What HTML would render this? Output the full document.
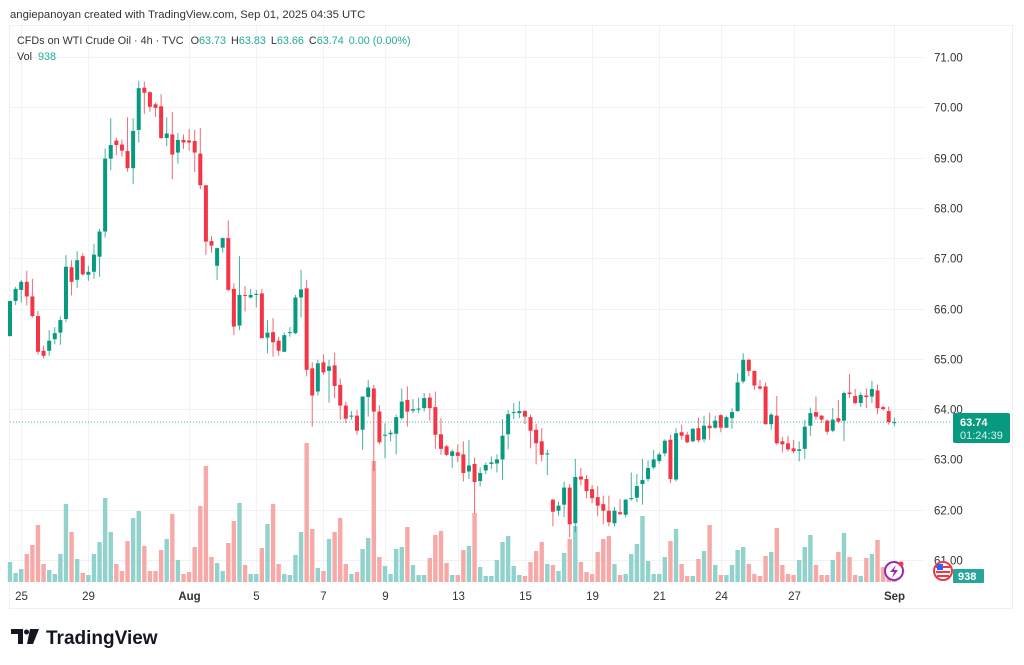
<!DOCTYPE html>
<html><head><meta charset="utf-8">
<style>
html,body{margin:0;padding:0;background:#fff;width:1024px;height:665px;overflow:hidden;font-family:"Liberation Sans",sans-serif;}
svg text{font-family:"Liberation Sans",sans-serif;}
</style></head>
<body>
<svg id="chart" width="1024" height="665" viewBox="0 0 1024 665" xmlns="http://www.w3.org/2000/svg">
  <text x="10" y="18" font-size="11.3" fill="#333">angiepanoyan created with TradingView.com, Sep 01, 2025 04:35 UTC</text>
  <rect x="9.5" y="25.5" width="1003" height="583" fill="none" stroke="#f0f0f0"/>
  <g id="grid"></g>
  <line id="pline" x1="10" x2="950" stroke="#089981" stroke-width="1" stroke-dasharray="1,2" opacity="0.7"/>
  <g id="vol"></g>
  <g id="candles"></g>
  <g id="yaxis"></g>
  <g id="xaxis"></g>
  <g font-size="10.8">
    <text x="17" y="44" fill="#333">CFDs on WTI Crude Oil · 4h · TVC <tspan dx="4">O</tspan><tspan fill="#22ab94">63.73</tspan><tspan dx="5">H</tspan><tspan fill="#22ab94">63.83</tspan><tspan dx="5">L</tspan><tspan fill="#22ab94">63.66</tspan><tspan dx="5">C</tspan><tspan fill="#22ab94">63.74</tspan><tspan dx="5" fill="#22ab94">0.00 (0.00%)</tspan></text>
    <text x="17" y="60" fill="#333">Vol <tspan dx="3" fill="#22ab94">938</tspan></text>
  </g>
  <g>
    <rect x="953" y="413" width="57" height="30" rx="2" fill="#089981"/>
    <text x="960" y="426" font-size="11" fill="#fff" font-weight="bold">63.74</text>
    <text x="960" y="439" font-size="11" fill="#d9f2ee">01:24:39</text>
  </g>
  <g>
    <rect x="953" y="569" width="31" height="14" rx="1" fill="#26a69a"/>
    <text x="958" y="580" font-size="11" fill="#fff" font-weight="bold">938</text>
  </g>
  <g>
    <circle cx="943" cy="571" r="9" fill="#fff" stroke="#f23645" stroke-width="2"/>
    <rect x="936" y="566" width="14" height="2" fill="#f23645"/><rect x="936" y="571" width="14" height="2" fill="#f23645"/><rect x="937" y="575" width="12" height="2" fill="#f23645"/>
    <rect x="937" y="564" width="6" height="6" fill="#2962ff"/>
  </g>
  <g>
    <circle cx="894" cy="571" r="9" fill="#fff" stroke="#9c27b0" stroke-width="2"/>
    <path d="M896 565 L890 572 L894 572 L892 578 L898 570 L894 570 Z" fill="#9c27b0"/>
    <circle cx="901" cy="564" r="2.5" fill="#f23645"/>
  </g>
  <g>
    <path d="M11 629 h12 v15 h-5 v-10 h-7 Z" fill="#131722"/>
    <circle cx="26.5" cy="632" r="2.5" fill="#131722"/>
    <path d="M30 629 h9 l-6 15 h-6 Z" fill="#131722"/>
    <text x="46" y="644" font-size="19" font-weight="bold" fill="#131722">TradingView</text>
  </g>
</svg>
<script>
const opens=[65.45,66.15,66.37,66.53,66.24,65.85,65.16,65.16,65.39,65.52,65.79,66.82,66.57,67.04,66.67,66.73,67.03,67.53,68.98,69.34,69.26,69.13,68.79,69.55,70.39,70.30,70.06,70.02,69.39,69.46,69.10,69.35,69.34,69.33,69.08,68.45,67.34,66.85,67.21,67.40,66.39,65.66,66.27,66.22,66.27,66.30,65.42,65.53,65.36,65.14,65.51,65.51,66.22,66.40,64.81,64.35,64.93,64.76,64.87,64.48,64.07,63.85,63.87,63.59,64.24,64.41,63.95,63.47,63.50,63.51,63.82,64.18,63.97,64.00,64.02,64.23,64.04,63.50,63.26,63.07,63.14,63.10,62.76,62.91,62.57,62.78,62.91,62.92,63.00,63.50,63.92,63.92,63.96,63.84,63.59,63.36,63.10,62.20,61.98,62.10,62.44,61.73,62.66,62.61,62.41,62.25,62.11,61.98,61.73,61.95,61.90,62.21,62.24,62.51,62.61,62.84,62.97,63.12,63.39,62.60,63.54,63.49,63.36,63.62,63.40,63.67,63.63,63.88,63.63,63.82,63.96,64.55,64.98,64.76,64.45,64.45,63.70,63.87,63.36,63.32,63.22,63.17,63.21,63.67,63.94,63.87,63.77,63.57,63.82,63.77,64.33,64.26,64.12,64.27,64.25,64.37,64.04,63.96,63.73];
const closes=[66.15,66.39,66.53,66.24,65.85,65.14,65.06,65.36,65.51,65.77,66.83,66.53,66.96,66.68,66.73,67.07,67.53,68.98,69.25,69.25,69.14,68.79,69.53,70.38,70.29,70.01,69.99,69.39,69.48,69.06,69.35,69.30,69.30,69.10,68.45,67.33,67.25,67.20,67.40,66.37,65.64,66.27,66.26,66.27,66.29,65.41,65.52,65.33,65.16,65.47,65.53,66.22,66.38,64.78,64.27,64.91,64.73,64.85,64.46,64.07,63.81,63.87,63.57,64.25,64.43,63.95,63.34,63.49,63.53,63.84,64.15,63.95,64.00,64.01,64.22,64.02,63.49,63.21,63.09,63.16,63.07,62.73,62.88,62.55,62.73,62.89,62.94,63.00,63.47,63.90,63.94,63.96,63.85,63.57,63.32,63.09,63.12,61.96,62.08,62.44,61.71,62.65,62.60,62.37,62.23,62.08,61.98,61.75,61.98,61.91,62.20,62.23,62.47,62.59,62.83,63.00,63.10,63.37,62.61,63.52,63.47,63.34,63.61,63.38,63.67,63.62,63.77,63.63,63.84,63.94,64.53,64.98,64.76,64.47,64.41,63.70,63.89,63.32,63.30,63.20,63.16,63.20,63.65,63.92,63.85,63.79,63.55,63.79,63.75,64.32,64.30,64.12,64.28,64.24,64.40,64.02,64.00,63.74,63.74];
const highs=[66.15,66.43,66.57,66.75,66.59,65.95,65.26,65.57,65.63,65.84,67.06,66.96,67.14,67.10,66.85,67.28,67.58,69.18,69.78,69.40,69.36,69.80,69.78,70.52,70.51,70.32,70.09,70.26,69.80,69.91,69.49,69.46,69.57,69.55,69.59,68.45,67.44,67.21,67.41,67.75,66.50,67.04,66.45,66.39,66.37,66.39,65.77,65.81,65.44,65.52,65.63,66.27,66.77,66.57,64.93,64.98,65.09,64.98,65.12,64.61,64.15,63.96,63.98,64.25,64.58,64.48,64.08,63.72,63.59,63.89,64.41,64.45,64.20,64.23,64.32,64.32,64.35,63.82,63.29,63.20,63.30,63.36,63.39,63.04,62.84,62.94,63.06,63.10,63.80,63.98,64.12,64.16,63.98,63.89,63.71,63.62,63.19,62.21,62.16,62.56,62.51,63.01,62.83,62.69,62.49,62.47,62.28,62.28,62.06,62.21,62.21,62.74,62.71,63.01,62.98,63.19,63.14,63.40,63.49,63.62,63.69,63.55,63.62,63.83,63.87,63.93,63.87,63.90,63.87,64.02,64.71,65.11,65.00,64.76,64.58,64.53,63.92,64.26,63.45,63.47,63.39,63.36,63.79,64.03,64.25,63.88,63.80,64.02,64.18,64.35,64.70,64.40,64.33,64.41,64.56,64.49,64.07,64.05,63.83];
const lows=[65.45,66.07,66.12,66.06,65.82,65.08,65.01,65.06,65.29,65.28,65.73,66.26,66.41,66.65,66.55,66.59,66.63,67.41,68.75,69.05,69.02,68.72,68.47,69.30,69.87,69.91,69.81,69.37,69.23,68.57,68.88,69.17,69.14,68.71,68.37,67.06,67.11,66.57,67.11,66.34,65.47,65.57,65.94,66.20,66.02,65.41,65.11,65.04,65.06,65.13,65.44,65.49,65.82,64.65,63.65,64.27,64.68,64.13,64.22,63.79,63.72,63.79,63.49,63.19,63.85,62.77,63.30,63.02,63.36,63.10,63.79,63.65,63.92,63.92,63.95,63.77,63.21,63.09,63.07,62.83,62.94,62.56,62.61,61.93,62.46,62.71,62.81,62.74,62.59,63.20,63.80,63.82,63.70,63.22,62.90,62.96,62.69,61.67,61.88,61.85,61.45,61.55,62.48,62.23,62.13,61.87,61.71,61.67,61.67,61.90,61.85,62.18,62.15,62.10,62.56,62.81,62.92,63.06,62.53,62.56,63.39,63.32,63.34,63.34,63.34,63.39,63.61,63.54,63.62,63.61,63.95,64.51,64.65,64.38,64.38,63.69,63.59,63.29,63.14,63.16,63.12,62.96,63.01,63.47,63.79,63.72,63.49,63.54,63.72,63.36,64.22,64.10,64.04,64.02,64.12,63.90,63.97,63.69,63.66];
const volumes=[20,9,13,28,37,57,18,12,8,28,78,50,23,9,7,28,40,84,50,18,11,41,64,71,36,11,11,32,43,68,22,8,10,35,76,116,25,19,11,39,61,79,17,8,8,34,58,78,18,8,7,27,50,139,53,14,11,43,50,64,18,8,10,33,44,121,25,16,8,33,35,55,17,7,7,24,47,51,19,7,7,32,36,69,15,6,6,22,40,46,16,7,6,20,31,40,18,17,11,29,43,56,20,10,8,30,43,46,18,7,8,28,38,66,21,8,8,25,41,53,18,6,6,23,31,57,17,7,7,17,32,35,18,8,6,26,30,54,17,8,7,22,35,47,17,7,7,22,30,49,25,7,6,24,28,42,15,15,4];
const priceTicks=[61,62,63,64,65,66,67,68,69,70,71];
const dayLabels=["25","29","Aug","5","7","9","13","15","19","21","24","27","Sep"];
const dayLabelIndex=[2,14,32,44,56,67,80,92,104,116,127,140,158];
const lastPrice=63.74;

const NS="http://www.w3.org/2000/svg";
const x0=10, step=5.597, plotRight=925;
function xScale(i){return x0+i*step;}
function yScale(p){return 57+(71-p)*50.3;}
function vScale(v){return v;}
const volBase=582;
function mk(tag,attrs,parent){const e=document.createElementNS(NS,tag);for(const k in attrs)e.setAttribute(k,attrs[k]);parent.appendChild(e);return e;}

const grid=document.getElementById('grid'), yax=document.getElementById('yaxis'), xax=document.getElementById('xaxis');
priceTicks.forEach(p=>{
  const y=Math.round(yScale(p))+0.5;
  const l=mk('line',{x1:10,x2:plotRight,y1:y,y2:y,stroke:'#f2f2f2'},grid);
  
  
  const t=mk('text',{x:934,y:y+4,'font-size':11.5,fill:'#333'},yax);
  
  
  t.textContent=p.toFixed(2);
});
dayLabels.forEach((d,k)=>{
  const x=Math.round(xScale(dayLabelIndex[k]))+0.5;
  const l=mk('line',{x1:x,x2:x,y1:26,y2:585,stroke:'#f2f2f2'},grid);
  
  
  const bold=(d==="Aug"||d==="Sep");
  const t=mk('text',{x:x,y:600,'font-size':11.5,fill:'#333','text-anchor':'middle','font-weight':bold?'bold':'normal'},xax);
  
  
  t.textContent=d;
});
const pl=document.getElementById('pline');
pl.setAttribute('y1',yScale(lastPrice));pl.setAttribute('y2',yScale(lastPrice));

const vg=document.getElementById('vol'), cg=document.getElementById('candles');
for(let i=0;i<opens.length;i++){
  const up=closes[i]>=opens[i];
  const x=xScale(i);
  const h=vScale(volumes[i]);
  const vb=mk('rect',{x:x-2.2,y:volBase-h,width:4.4,height:h,fill:up?'#92d2cc':'#f7a9a7'},vg);
  
  
  const col=up?'#089981':'#f23645';
  const w=mk('line',{x1:x,x2:x,y1:yScale(highs[i]),y2:yScale(lows[i]),stroke:col,'stroke-width':1,opacity:0.75},cg);
  
  
  const yt=yScale(Math.max(opens[i],closes[i])), yb=yScale(Math.min(opens[i],closes[i]));
  const b=mk('rect',{x:x-2,y:yt,width:4,height:Math.max(1,yb-yt),fill:col},cg);
  
  
}
</script>
</body></html>
